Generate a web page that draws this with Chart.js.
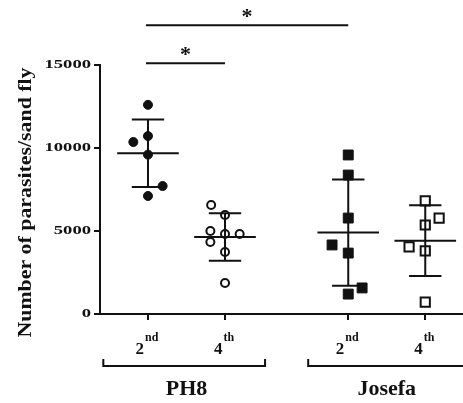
<!DOCTYPE html>
<html>
<head>
<meta charset="utf-8">
<style>
  html, body { margin: 0; padding: 0; background: #fff; }
  #wrap { width: 463px; height: 403px; }
</style>
<script src="https://cdn.jsdelivr.net/npm/chart.js@4/dist/chart.umd.min.js"></script>
</head>
<body>
<div id="wrap"><canvas id="c" width="463" height="403"></canvas></div>
<script>
// Parasite loads per sand fly, by strain and passage
const groupNames = ['PH8', 'Josefa'];
const tickBase = ['2', '4', '2', '4'];
const tickSup = ['nd', 'th', 'nd', 'th'];
const categoryPos = [1, 2, 3.6, 4.6];
const groupSpans = [[0.42, 2.52], [3.08, 5.4]];
const yTicks = [0, 5000, 10000, 15000];

const ph8Second = [12600, 10720, 10360, 9600, 7710, 7110];
const ph8SecondJitter = [0, 0, -0.19, 0, 0.19, 0];
const ph8Fourth = [6570, 5960, 5000, 4340, 4820, 4820, 3730, 1870];
const ph8FourthJitter = [-0.18, 0, -0.19, -0.19, 0, 0.19, 0, 0];
const josefaSecond = [9580, 8370, 5780, 4160, 3670, 1570, 1200];
const josefaSecondJitter = [0, 0, 0, -0.21, 0, 0.18, 0];
const josefaFourth = [6810, 5780, 5360, 4040, 3800, 720];
const josefaFourthJitter = [0, 0.18, 0, -0.21, 0, 0];

// significance brackets: [from category, to category, height]
const sigPairs = [[0, 2, 17400], [0, 1, 15100]];

const seriesVals = [ph8Second, ph8Fourth, josefaSecond, josefaFourth];
const seriesJitter = [ph8SecondJitter, ph8FourthJitter, josefaSecondJitter, josefaFourthJitter];

function toPoints(i) {
  return seriesVals[i].map((v, k) => ({ x: categoryPos[i] + seriesJitter[i][k], y: v }));
}
function mean(a) { return a.reduce((s, v) => s + v, 0) / a.length; }
function sd(a) {
  const m = mean(a);
  return Math.sqrt(a.reduce((s, v) => s + (v - m) * (v - m), 0) / (a.length - 1));
}

const SERIF = '"Liberation Serif", "Times New Roman", serif';
const INK = '#111';

const overlay = {
  id: 'overlay',
  afterDatasetsDraw(chart) {
    const { ctx, scales: { x, y } } = chart;
    ctx.save();
    ctx.strokeStyle = INK;
    ctx.fillStyle = INK;
    ctx.lineWidth = 2;
    ctx.lineCap = 'butt';

    // mean and SD bars
    seriesVals.forEach((vals, i) => {
      const m = mean(vals), s = sd(vals);
      const c = categoryPos[i];
      const xc = x.getPixelForValue(c);
      const ym = y.getPixelForValue(m);
      const yt = y.getPixelForValue(m + s);
      const yb = y.getPixelForValue(m - s);
      const mh = x.getPixelForValue(c + 0.4) - xc;
      const ch = x.getPixelForValue(c + 0.21) - xc;
      ctx.beginPath();
      ctx.moveTo(xc - mh, ym); ctx.lineTo(xc + mh, ym);
      ctx.moveTo(xc, yt); ctx.lineTo(xc, yb);
      ctx.moveTo(xc - ch, yt); ctx.lineTo(xc + ch, yt);
      ctx.moveTo(xc - ch, yb); ctx.lineTo(xc + ch, yb);
      ctx.stroke();
    });

    // y tick labels
    ctx.textBaseline = 'middle';
    ctx.textAlign = 'right';
    ctx.font = 'bold 12px ' + SERIF;
    yTicks.forEach(v => {
      const py = y.getPixelForValue(v);
      ctx.save();
      ctx.translate(x.left - 9, py);
      ctx.scale(1.55, 1);
      ctx.fillText(String(v), 0, 0);
      ctx.restore();
    });

    // y axis title
    ctx.save();
    ctx.translate(26, (y.top + y.bottom) / 2 + 13);
    ctx.rotate(-Math.PI / 2);
    ctx.scale(1.15, 1);
    ctx.textAlign = 'center';
    ctx.textBaseline = 'middle';
    ctx.font = 'bold 19px ' + SERIF;
    ctx.fillText('Number of parasites/sand fly', 0, 0);
    ctx.restore();

    // x tick labels with superscripts
    ctx.textBaseline = 'alphabetic';
    ctx.textAlign = 'left';
    categoryPos.forEach((c, i) => {
      const px = x.getPixelForValue(c);
      ctx.font = 'bold 17px ' + SERIF;
      const wb = ctx.measureText(tickBase[i]).width;
      ctx.font = 'bold 12px ' + SERIF;
      const ws = ctx.measureText(tickSup[i]).width;
      const x0 = px - (wb + ws + 1) / 2 - 1;
      ctx.font = 'bold 17px ' + SERIF;
      ctx.fillText(tickBase[i], x0, y.bottom + 40);
      ctx.font = 'bold 12px ' + SERIF;
      ctx.fillText(tickSup[i], x0 + wb + 1, y.bottom + 27);
    });

    // group brackets and names
    const bracketY = y.bottom + 52;
    groupSpans.forEach((sp, g) => {
      const a = x.getPixelForValue(sp[0]);
      const b = x.getPixelForValue(sp[1]);
      ctx.beginPath();
      ctx.moveTo(a, bracketY - 7); ctx.lineTo(a, bracketY);
      ctx.lineTo(b, bracketY); ctx.lineTo(b, bracketY - 7);
      ctx.stroke();
      const cx = (x.getPixelForValue(categoryPos[g * 2]) + x.getPixelForValue(categoryPos[g * 2 + 1])) / 2;
      ctx.textAlign = 'center';
      ctx.font = 'bold 22px ' + SERIF;
      ctx.fillText(groupNames[g], cx, y.bottom + 81);
    });

    // significance bars
    ctx.textAlign = 'center';
    sigPairs.forEach(([i, j, h]) => {
      const a = x.getPixelForValue(categoryPos[i]) - 2;
      const b = x.getPixelForValue(categoryPos[j]);
      const py = y.getPixelForValue(h);
      ctx.beginPath();
      ctx.moveTo(a, py); ctx.lineTo(b, py);
      ctx.stroke();
      ctx.font = 'bold 22px ' + SERIF;
      ctx.fillText('*', (a + b) / 2, py - 2);
    });

    ctx.restore();
  }
};

const openFill = 'rgba(0,0,0,0)';

new Chart(document.getElementById('c'), {
  type: 'scatter',
  data: {
    datasets: [
      { label: 'PH8 2nd', data: toPoints(0), pointStyle: 'circle', pointRadius: 4.5,
        backgroundColor: INK, borderColor: INK, borderWidth: 1 },
      { label: 'PH8 4th', data: toPoints(1), pointStyle: 'circle', pointRadius: 4,
        backgroundColor: openFill, borderColor: INK, borderWidth: 2 },
      { label: 'Josefa 2nd', data: toPoints(2), pointStyle: 'rect', pointRadius: 7,
        backgroundColor: INK, borderColor: INK, borderWidth: 1 },
      { label: 'Josefa 4th', data: toPoints(3), pointStyle: 'rect', pointRadius: 6.5,
        backgroundColor: openFill, borderColor: INK, borderWidth: 2 }
    ]
  },
  options: {
    responsive: false,
    devicePixelRatio: 1,
    animation: false,
    events: [],
    layout: { autoPadding: false, padding: { top: 65, left: 0, right: 0, bottom: 0 } },
    plugins: { legend: { display: false }, tooltip: { enabled: false } },
    scales: {
      x: {
        type: 'linear',
        min: 0.377,
        max: 5.09,
        afterBuildTicks: s => { s.ticks = categoryPos.map(v => ({ value: v })); },
        afterFit: s => { s.height = 89; },
        ticks: { display: false },
        grid: { drawOnChartArea: false, color: INK, lineWidth: 2, tickLength: 6 },
        border: { color: INK, width: 2 }
      },
      y: {
        min: 0,
        max: 15000,
        afterBuildTicks: s => { s.ticks = yTicks.map(v => ({ value: v })); },
        afterFit: s => { s.width = 100; },
        ticks: { display: false },
        grid: { drawOnChartArea: false, color: INK, lineWidth: 2, tickLength: 6 },
        border: { color: INK, width: 2 }
      }
    }
  },
  plugins: [overlay]
});
</script>
</body>
</html>
